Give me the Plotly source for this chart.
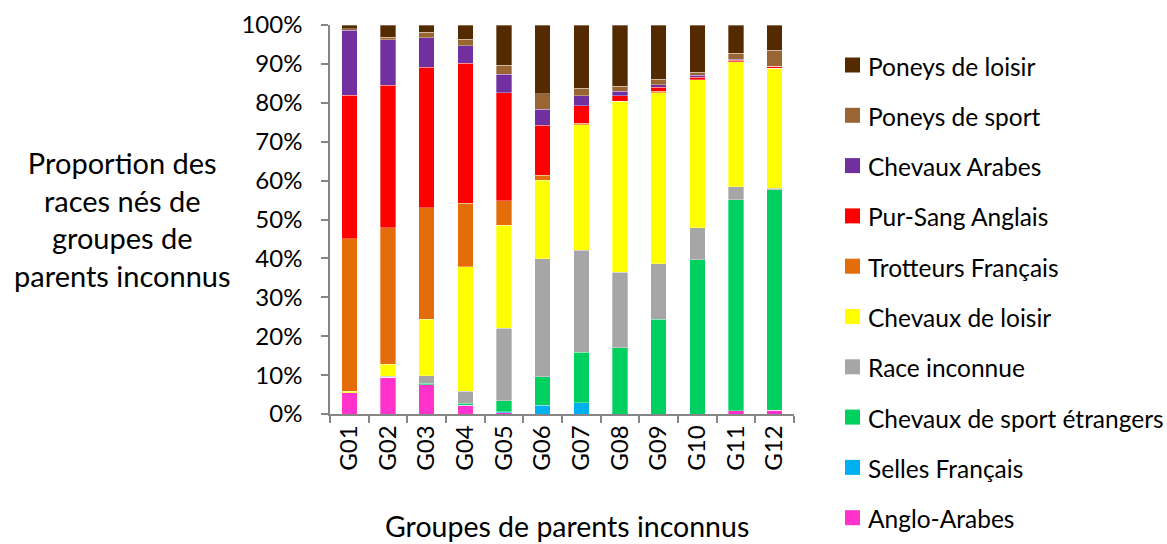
import plotly.graph_objects as go

groupes = ["G01", "G02", "G03", "G04", "G05", "G06",
           "G07", "G08", "G09", "G10", "G11", "G12"]

# Share (%) of each breed per group, stacked bottom to top
anglo_arabes = [5.4, 9.4, 7.5, 2.3, 0.3, 0.0, 0.0, 0.0, 0.0, 0.0, 0.9, 1.0]
selles_francais = [0.0, 0.0, 0.0, 0.0, 0.3, 2.2, 2.9, 0.0, 0.0, 0.0, 0.0, 0.0]
sport_etrangers = [0.0, 0.0, 0.4, 0.5, 2.8, 7.4, 13.0, 17.0, 24.4, 39.6, 54.2, 56.7]
race_inconnue = [0.0, 0.3, 1.9, 3.1, 18.7, 30.3, 26.2, 19.5, 14.2, 8.3, 3.3, 0.3]
chevaux_loisir = [0.5, 3.1, 14.6, 32.0, 26.4, 20.2, 32.2, 43.9, 44.0, 38.0, 32.1, 30.9]
trotteurs = [39.1, 35.1, 28.6, 16.3, 6.3, 1.3, 0.4, 0.0, 0.4, 0.0, 0.0, 0.0]
pur_sang = [36.9, 36.6, 36.1, 36.0, 27.8, 12.8, 4.6, 1.4, 1.0, 0.7, 0.5, 0.5]
chevaux_arabes = [16.7, 11.7, 7.6, 4.5, 4.8, 4.1, 2.5, 1.2, 0.6, 0.5, 0.2, 0.0]
poneys_sport = [0.4, 0.7, 1.4, 1.7, 2.3, 4.0, 1.9, 1.3, 1.5, 0.7, 1.5, 4.1]
poneys_loisir = [1.0, 3.1, 1.9, 3.6, 10.3, 17.7, 16.3, 15.7, 13.9, 12.2, 7.3, 6.5]

series = [
    ("Anglo-Arabes", anglo_arabes, "#FF33CC"),
    ("Selles Français", selles_francais, "#00B0F0"),
    ("Chevaux de sport étrangers", sport_etrangers, "#00D060"),
    ("Race inconnue", race_inconnue, "#A6A6A6"),
    ("Chevaux de loisir", chevaux_loisir, "#FFFF00"),
    ("Trotteurs Français", trotteurs, "#E46C0A"),
    ("Pur-Sang Anglais", pur_sang, "#FF0000"),
    ("Chevaux Arabes", chevaux_arabes, "#7030A0"),
    ("Poneys de sport", poneys_sport, "#996633"),
    ("Poneys de loisir", poneys_loisir, "#542A00"),
]

FONT = "Lato, Carlito, Calibri, sans-serif"
AXIS = "#868686"
W, H = 1167, 544
ML, MR, MT, MB = 330, 373, 25, 130
PW, PH = W - ML - MR, H - MT - MB


def px_x(x):
    return (x - ML) / PW


def px_y(y):
    return (H - MB - y) / PH


fig = go.Figure()
for name, vals, color in series:
    fig.add_trace(go.Bar(
        x=groupes, y=vals, name=name,
        marker=dict(color=color, line=dict(color="rgba(255,255,255,0.55)", width=0.6)),
    ))

# Legend drawn as a column of swatches + labels, top entry = top of stack
shapes, annotations = [], []
for i, (name, _, color) in enumerate(reversed(series)):
    yc = 65 + i * 50.3
    shapes.append(dict(
        type="rect", xref="paper", yref="paper",
        x0=px_x(845), x1=px_x(860), y0=px_y(yc + 7.5), y1=px_y(yc - 7.5),
        fillcolor=color, line=dict(width=0),
    ))
    annotations.append(dict(
        text=name, xref="paper", yref="paper",
        x=px_x(866), y=px_y(yc + 1), xanchor="left", yanchor="middle",
        showarrow=False, font=dict(family=FONT, size=24.5, color="#000000"),
    ))

annotations.append(dict(
    text="Proportion des<br>races nés de<br>groupes de<br>parents inconnus",
    xref="paper", yref="paper", x=px_x(122), y=px_y(219),
    xanchor="center", yanchor="middle", showarrow=False,
    font=dict(family=FONT, size=29, color="#000000"),
))
annotations.append(dict(
    text="Groupes de parents inconnus",
    xref="paper", yref="paper", x=px_x(567), y=px_y(526),
    xanchor="center", yanchor="middle", showarrow=False,
    font=dict(family=FONT, size=28.5, color="#000000"),
))

fig.update_layout(
    width=W, height=H,
    barmode="stack", bargap=0.6,
    plot_bgcolor="white", paper_bgcolor="white",
    margin=dict(l=ML, r=MR, t=MT, b=MB, autoexpand=False),
    font=dict(family=FONT, size=24, color="#000000"),
    showlegend=False,
    xaxis=dict(
        automargin=False,
        showline=True, linecolor=AXIS, linewidth=1.5,
        ticks="outside", tickcolor=AXIS, ticklen=7, tickwidth=1.5,
        tickson="boundaries", tickangle=-90,
        tickfont=dict(family=FONT, size=24),
        showgrid=False,
    ),
    yaxis=dict(
        automargin=False,
        range=[0, 100], dtick=10, ticksuffix="%",
        showline=True, linecolor=AXIS, linewidth=1.5,
        ticks="outside", tickcolor=AXIS, ticklen=7, tickwidth=1.5,
        ticklabelstandoff=14,
        tickfont=dict(family=FONT, size=24),
        showgrid=False, zeroline=False,
    ),
    shapes=shapes,
    annotations=annotations,
)

fig.write_html("out.html")
